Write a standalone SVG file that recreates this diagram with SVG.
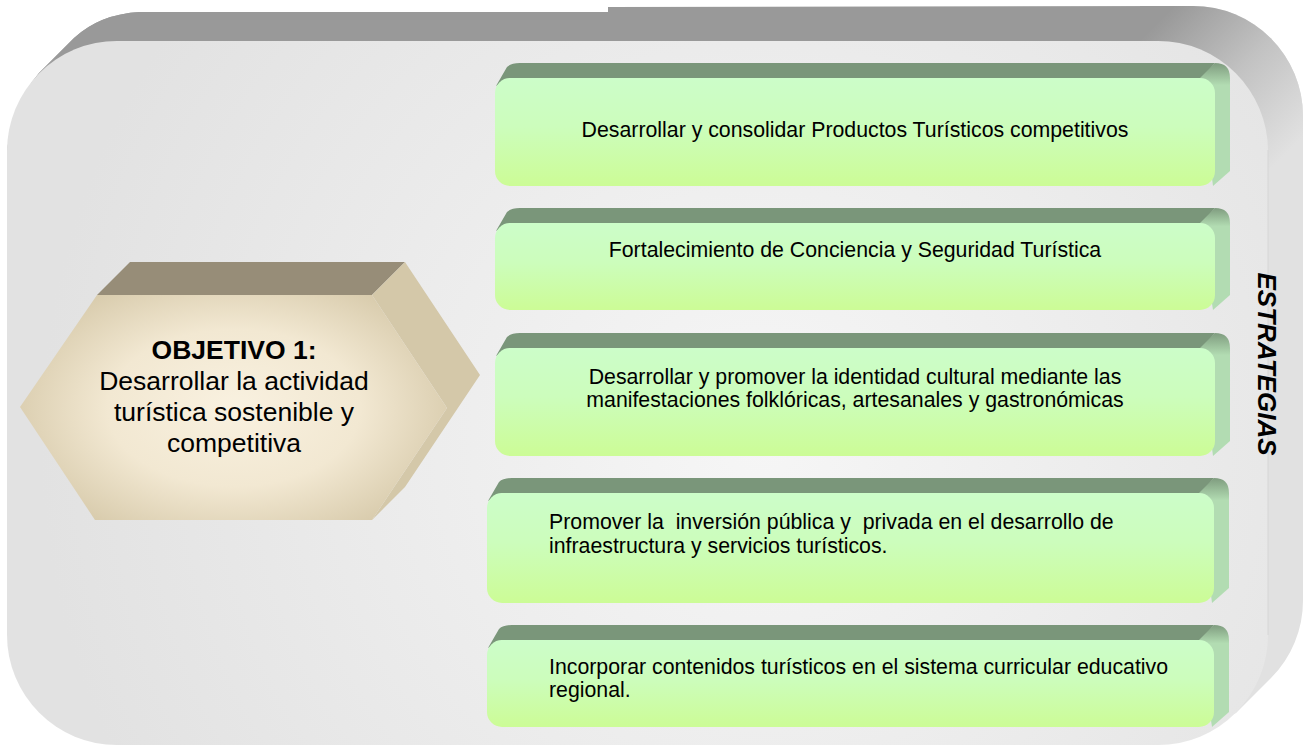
<svg xmlns="http://www.w3.org/2000/svg" width="1312" height="745" viewBox="0 0 1312 745">
  <defs>
    <linearGradient id="extCorner" gradientUnits="userSpaceOnUse" x1="1160" y1="20" x2="1290" y2="150">
      <stop offset="0" stop-color="#999999"/>
      <stop offset="0.5" stop-color="#c2c2c2"/>
      <stop offset="1" stop-color="#e1e1e1"/>
    </linearGradient>
    <linearGradient id="extLeft" gradientUnits="userSpaceOnUse" x1="10" y1="150" x2="120" y2="20">
      <stop offset="0" stop-color="#d6d6d6"/>
      <stop offset="0.6" stop-color="#999999"/>
      <stop offset="1" stop-color="#999999"/>
    </linearGradient>
    <radialGradient id="bgFace" gradientUnits="userSpaceOnUse" cx="760" cy="440" r="720">
      <stop offset="0" stop-color="#f6f6f6"/>
      <stop offset="1" stop-color="#e2e2e2"/>
    </radialGradient>
    <radialGradient id="hexFace" gradientUnits="userSpaceOnUse" cx="234" cy="408" r="230" gradientTransform="translate(234 408) scale(1 0.62) translate(-234 -408)">
      <stop offset="0" stop-color="#f9f1e0"/>
      <stop offset="0.55" stop-color="#f2e8d2"/>
      <stop offset="1" stop-color="#d8cbac"/>
    </radialGradient>
    <linearGradient id="greenFace" x1="0" y1="0" x2="0" y2="1">
      <stop offset="0" stop-color="#ccfdc9"/>
      <stop offset="0.45" stop-color="#ccfdbc"/>
      <stop offset="1" stop-color="#ccfc96"/>
    </linearGradient>
    <linearGradient id="greenSide" x1="0" y1="0" x2="0" y2="1">
      <stop offset="0" stop-color="#7f9c7f"/>
      <stop offset="0.18" stop-color="#b2dcb2"/>
      <stop offset="1" stop-color="#b2dcb2"/>
    </linearGradient>
    <style>
      .t { font-family: "Liberation Sans", Arial, sans-serif; fill: #000; }
      .box { font-size: 21.3px; }
      .hex { font-size: 26.5px; text-anchor: middle; }
      .top { fill: #7a967a; }
      .side { fill: url(#greenSide); }
      .face { fill: url(#greenFace); }
    </style>
  </defs>

  <g id="container">
    <path d="M 7,151 Q 12,105 39,73 L 74,38 Q 100,14 140,12 L 608,12 L 608,7 L 1193,6 L 1150,60 L 117,151 Z" fill="#999999"/>
    <path d="M 7,151 Q 12,105 39,73 L 74,38 Q 100,14 140,12 L 300,12 L 300,60 L 60,200 Z" fill="url(#extLeft)"/>
    <path d="M 1140,6 L 1193,6 A 110 110 0 0 1 1303,116 L 1303,600 A 110 110 0 0 1 1271,678 L 1236,713 L 1158,745 L 1140,151 Z" fill="#e1e1e1"/>
    <path d="M 1140,6 L 1193,6 A 110 110 0 0 1 1303,116 L 1303,200 L 1200,200 L 1140,41 Z" fill="url(#extCorner)"/>
    <rect x="7" y="41" width="1261" height="704" rx="110" ry="110" fill="url(#bgFace)"/>
    <line x1="1268" y1="150" x2="1268" y2="635" stroke="#d6d6d6" stroke-width="1"/>
  </g>

  <g id="objetivo">
    <polygon points="97,295 130,262 405,262 372,295" fill="#978d78"/>
    <polygon points="372,295 405,262 480,375 405,487 372,520 447,408" fill="#d4c8a9"/>
    <polygon points="20,407 97,295 372,295 447,408 372,520 95,520" fill="url(#hexFace)"/>
    <text class="t hex" x="234" y="359" font-weight="bold">OBJETIVO 1:</text>
    <text class="t hex" x="234" y="390">Desarrollar la actividad</text>
    <text class="t hex" x="234" y="421">turística sostenible y</text>
    <text class="t hex" x="234" y="452">competitiva</text>
  </g>

  <g id="estrategia1">
    <path class="top" d="M 496,86 L 507,67 Q 511,63 520,63 L 1215,63 L 1202,78 L 510,78 Z"/>
    <path class="side" d="M 1200,78 L 1215,63 Q 1230,63 1230,78 L 1230,171 L 1213,186 Z"/>
    <rect class="face" x="495" y="78" width="720" height="108" rx="15" ry="15"/>
    <text class="t box" x="855" y="137" text-anchor="middle">Desarrollar y consolidar Productos Turísticos competitivos</text>
  </g>

  <g id="estrategia2">
    <path class="top" d="M 496,231 L 507,212 Q 511,208 520,208 L 1215,208 L 1202,223 L 510,223 Z"/>
    <path class="side" d="M 1200,223 L 1215,208 Q 1230,208 1230,223 L 1230,295 L 1213,310 Z"/>
    <rect class="face" x="495" y="223" width="720" height="87" rx="15" ry="15"/>
    <text class="t box" x="855" y="257" text-anchor="middle">Fortalecimiento de Conciencia y Seguridad Turística</text>
  </g>

  <g id="estrategia3">
    <path class="top" d="M 496,356 L 507,337 Q 511,333 520,333 L 1215,333 L 1202,348 L 510,348 Z"/>
    <path class="side" d="M 1200,348 L 1215,333 Q 1230,333 1230,348 L 1230,441 L 1213,456 Z"/>
    <rect class="face" x="495" y="348" width="720" height="108" rx="15" ry="15"/>
    <text class="t box" x="855" y="384" text-anchor="middle">Desarrollar y promover la identidad cultural mediante las</text>
    <text class="t box" x="855" y="407" text-anchor="middle">manifestaciones folklóricas, artesanales y gastronómicas</text>
  </g>

  <g id="estrategia4">
    <path class="top" d="M 488,501 L 499,482 Q 503,478 512,478 L 1214,478 L 1201,493 L 502,493 Z"/>
    <path class="side" d="M 1199,493 L 1214,478 Q 1229,478 1229,493 L 1229,588 L 1212,603 Z"/>
    <rect class="face" x="487" y="493" width="727" height="110" rx="15" ry="15"/>
    <text class="t box" x="549" y="529" xml:space="preserve">Promover la  inversión pública y  privada en el desarrollo de</text>
    <text class="t box" x="549" y="553">infraestructura y servicios turísticos.</text>
  </g>

  <g id="estrategia5">
    <path class="top" d="M 488,648 L 499,629 Q 503,625 512,625 L 1214,625 L 1201,640 L 502,640 Z"/>
    <path class="side" d="M 1199,640 L 1214,625 Q 1229,625 1229,640 L 1229,712 L 1212,727 Z"/>
    <rect class="face" x="487" y="640" width="727" height="87" rx="15" ry="15"/>
    <text class="t box" x="549" y="674">Incorporar contenidos turísticos en el sistema curricular educativo</text>
    <text class="t box" x="549" y="697">regional.</text>
  </g>

  <g id="etiqueta">
    <text class="t" transform="translate(1258 364) rotate(90)" x="0" y="0" font-size="26" font-weight="bold" font-style="italic" text-anchor="middle">ESTRATEGIAS</text>
  </g>

  <g id="connectors"/>
</svg>
